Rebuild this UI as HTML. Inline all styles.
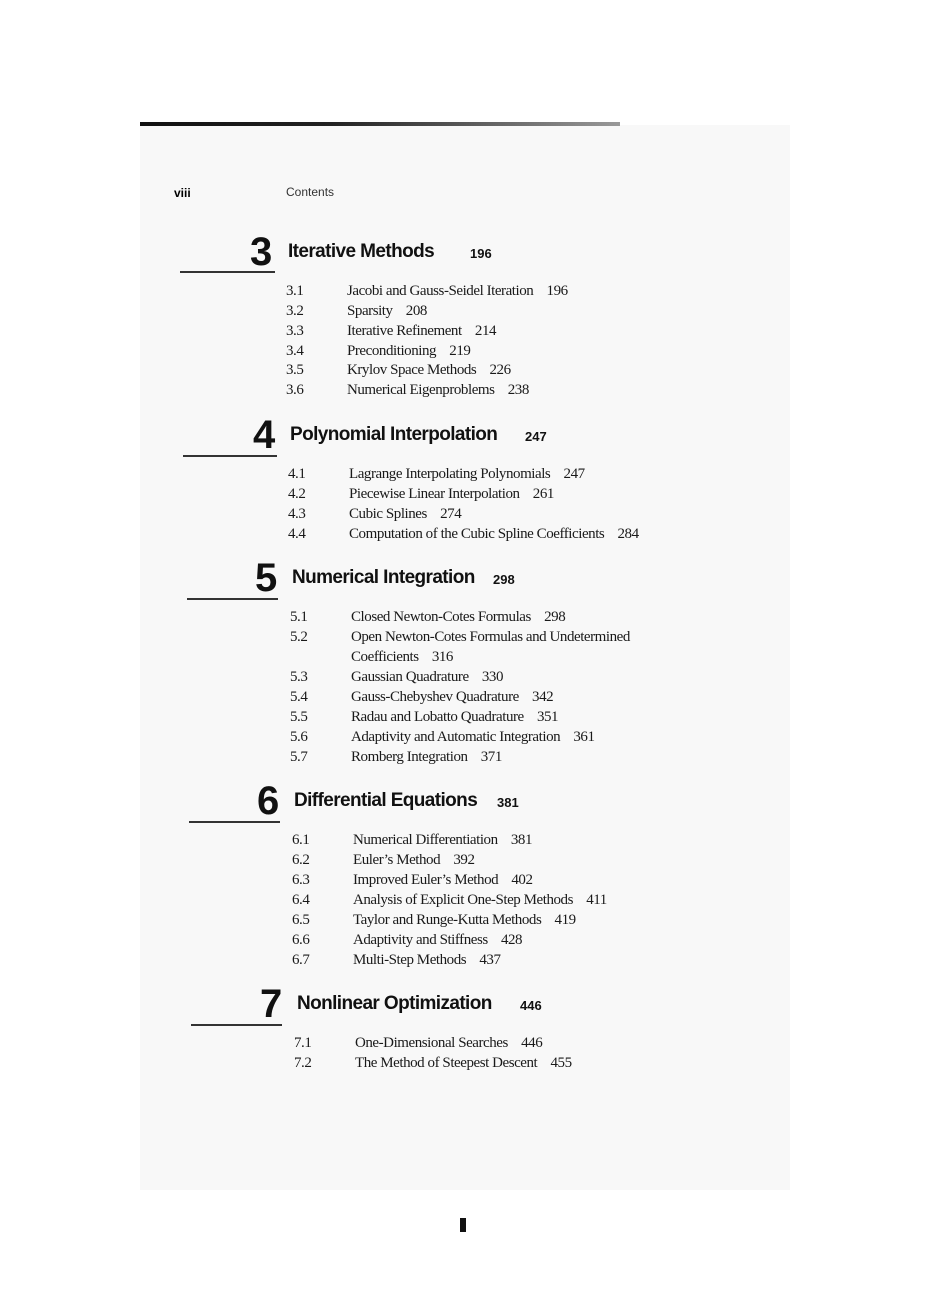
<!DOCTYPE html>
<html><head><meta charset="utf-8"><style>
body{margin:0;width:925px;height:1309px;background:#fff;position:relative;overflow:hidden}
.pg{position:absolute;left:140px;top:125px;width:650px;height:1065px;background:#f8f8f8}
.a{position:absolute;white-space:nowrap;line-height:1}
.s{font-family:"Liberation Serif",serif;font-size:15px;letter-spacing:-0.45px;color:#1a1a1a;margin-top:2px}
.n{font-family:"Liberation Sans",sans-serif;font-weight:bold;font-size:40px;color:#111;letter-spacing:-1px}
.t{font-family:"Liberation Sans",sans-serif;font-weight:bold;font-size:19px;color:#111;letter-spacing:-0.6px}
.p{font-family:"Liberation Sans",sans-serif;font-weight:bold;font-size:13px;color:#111}
.r{position:absolute;height:2px;background:#333}
</style></head><body>
<div class="pg"></div>
<div style="position:absolute;left:140px;top:122px;width:480px;height:4px;background:linear-gradient(90deg,#111 0,#222 40%,#999 100%)"></div>
<div class="a" style="left:174px;top:187px;font-family:'Liberation Sans',sans-serif;font-weight:bold;font-size:12px">viii</div>
<div class="a" style="left:286px;top:186px;font-family:'Liberation Sans',sans-serif;font-size:12px;color:#333">Contents</div>

<div class="a n" style="left:250px;top:232px">3</div>
<div class="a t" style="left:288px;top:242px">Iterative Methods</div>
<div class="a p" style="left:470px;top:247px">196</div>
<div class="r" style="left:180px;top:271px;width:95px"></div>
<div class="a s" style="left:286px;top:282px">3.1</div><div class="a s" style="left:347px;top:282px">Jacobi and Gauss-Seidel Iteration&nbsp;&nbsp;&nbsp; 196</div>
<div class="a s" style="left:286px;top:302px">3.2</div><div class="a s" style="left:347px;top:302px">Sparsity&nbsp;&nbsp;&nbsp; 208</div>
<div class="a s" style="left:286px;top:322px">3.3</div><div class="a s" style="left:347px;top:322px">Iterative Refinement&nbsp;&nbsp;&nbsp; 214</div>
<div class="a s" style="left:286px;top:342px">3.4</div><div class="a s" style="left:347px;top:342px">Preconditioning&nbsp;&nbsp;&nbsp; 219</div>
<div class="a s" style="left:286px;top:361px">3.5</div><div class="a s" style="left:347px;top:361px">Krylov Space Methods&nbsp;&nbsp;&nbsp; 226</div>
<div class="a s" style="left:286px;top:381px">3.6</div><div class="a s" style="left:347px;top:381px">Numerical Eigenproblems&nbsp;&nbsp;&nbsp; 238</div>

<div class="a n" style="left:253px;top:415px">4</div>
<div class="a t" style="left:290px;top:425px">Polynomial Interpolation</div>
<div class="a p" style="left:525px;top:430px">247</div>
<div class="r" style="left:183px;top:455px;width:94px"></div>
<div class="a s" style="left:288px;top:465px">4.1</div><div class="a s" style="left:349px;top:465px">Lagrange Interpolating Polynomials&nbsp;&nbsp;&nbsp; 247</div>
<div class="a s" style="left:288px;top:485px">4.2</div><div class="a s" style="left:349px;top:485px">Piecewise Linear Interpolation&nbsp;&nbsp;&nbsp; 261</div>
<div class="a s" style="left:288px;top:505px">4.3</div><div class="a s" style="left:349px;top:505px">Cubic Splines&nbsp;&nbsp;&nbsp; 274</div>
<div class="a s" style="left:288px;top:525px">4.4</div><div class="a s" style="left:349px;top:525px">Computation of the Cubic Spline Coefficients&nbsp;&nbsp;&nbsp; 284</div>

<div class="a n" style="left:255px;top:558px">5</div>
<div class="a t" style="left:292px;top:568px">Numerical Integration</div>
<div class="a p" style="left:493px;top:573px">298</div>
<div class="r" style="left:187px;top:598px;width:91px"></div>
<div class="a s" style="left:290px;top:608px">5.1</div><div class="a s" style="left:351px;top:608px">Closed Newton-Cotes Formulas&nbsp;&nbsp;&nbsp; 298</div>
<div class="a s" style="left:290px;top:628px">5.2</div><div class="a s" style="left:351px;top:628px">Open Newton-Cotes Formulas and Undetermined</div>
<div class="a s" style="left:351px;top:648px">Coefficients&nbsp;&nbsp;&nbsp; 316</div>
<div class="a s" style="left:290px;top:668px">5.3</div><div class="a s" style="left:351px;top:668px">Gaussian Quadrature&nbsp;&nbsp;&nbsp; 330</div>
<div class="a s" style="left:290px;top:688px">5.4</div><div class="a s" style="left:351px;top:688px">Gauss-Chebyshev Quadrature&nbsp;&nbsp;&nbsp; 342</div>
<div class="a s" style="left:290px;top:708px">5.5</div><div class="a s" style="left:351px;top:708px">Radau and Lobatto Quadrature&nbsp;&nbsp;&nbsp; 351</div>
<div class="a s" style="left:290px;top:728px">5.6</div><div class="a s" style="left:351px;top:728px">Adaptivity and Automatic Integration&nbsp;&nbsp;&nbsp; 361</div>
<div class="a s" style="left:290px;top:748px">5.7</div><div class="a s" style="left:351px;top:748px">Romberg Integration&nbsp;&nbsp;&nbsp; 371</div>

<div class="a n" style="left:257px;top:781px">6</div>
<div class="a t" style="left:294px;top:791px">Differential Equations</div>
<div class="a p" style="left:497px;top:796px">381</div>
<div class="r" style="left:189px;top:821px;width:91px"></div>
<div class="a s" style="left:292px;top:831px">6.1</div><div class="a s" style="left:353px;top:831px">Numerical Differentiation&nbsp;&nbsp;&nbsp; 381</div>
<div class="a s" style="left:292px;top:851px">6.2</div><div class="a s" style="left:353px;top:851px">Euler’s Method&nbsp;&nbsp;&nbsp; 392</div>
<div class="a s" style="left:292px;top:871px">6.3</div><div class="a s" style="left:353px;top:871px">Improved Euler’s Method&nbsp;&nbsp;&nbsp; 402</div>
<div class="a s" style="left:292px;top:891px">6.4</div><div class="a s" style="left:353px;top:891px">Analysis of Explicit One-Step Methods&nbsp;&nbsp;&nbsp; 411</div>
<div class="a s" style="left:292px;top:911px">6.5</div><div class="a s" style="left:353px;top:911px">Taylor and Runge-Kutta Methods&nbsp;&nbsp;&nbsp; 419</div>
<div class="a s" style="left:292px;top:931px">6.6</div><div class="a s" style="left:353px;top:931px">Adaptivity and Stiffness&nbsp;&nbsp;&nbsp; 428</div>
<div class="a s" style="left:292px;top:951px">6.7</div><div class="a s" style="left:353px;top:951px">Multi-Step Methods&nbsp;&nbsp;&nbsp; 437</div>

<div class="a n" style="left:260px;top:984px">7</div>
<div class="a t" style="left:297px;top:994px">Nonlinear Optimization</div>
<div class="a p" style="left:520px;top:999px">446</div>
<div class="r" style="left:191px;top:1024px;width:91px"></div>
<div class="a s" style="left:294px;top:1034px">7.1</div><div class="a s" style="left:355px;top:1034px">One-Dimensional Searches&nbsp;&nbsp;&nbsp; 446</div>
<div class="a s" style="left:294px;top:1054px">7.2</div><div class="a s" style="left:355px;top:1054px">The Method of Steepest Descent&nbsp;&nbsp;&nbsp; 455</div>

<div style="position:absolute;left:460px;top:1218px;width:6px;height:14px;background:#111"></div>
</body></html>
